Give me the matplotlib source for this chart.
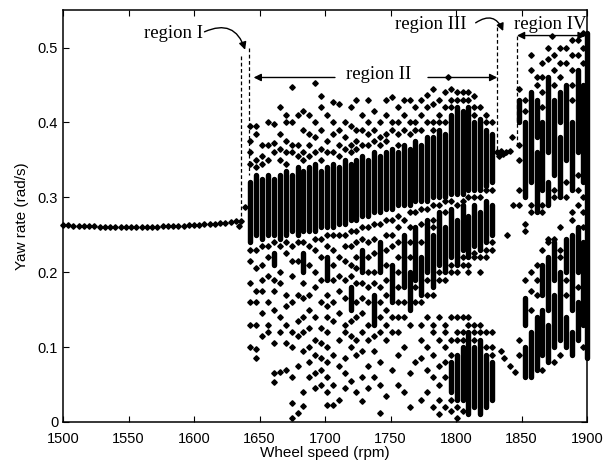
import numpy as np
import matplotlib.pyplot as plt

# region I : steady yaw rate
r1_speed = [1500, 1504, 1508, 1512, 1516, 1520, 1524, 1528, 1532, 1536,
            1540, 1544, 1548, 1552, 1556, 1560, 1564, 1568, 1572, 1576,
            1580, 1584, 1588, 1592, 1596, 1600, 1604, 1608, 1612, 1616,
            1620, 1624, 1628, 1632, 1636]
r1_yaw = [0.263, 0.263, 0.262, 0.262, 0.262, 0.262, 0.262, 0.261, 0.261, 0.261,
          0.261, 0.261, 0.261, 0.261, 0.261, 0.261, 0.261, 0.261, 0.261, 0.262,
          0.262, 0.262, 0.262, 0.262, 0.263, 0.263, 0.263, 0.264, 0.264, 0.265,
          0.266, 0.266, 0.267, 0.268, 0.269]

# odd points near region boundaries
extra_speed = [1634, 1639, 1794, 1873]
extra_yaw = [0.262, 0.287, 0.46, 0.516]

# region II : one column of samples per speed
r2_speed = [1643, 1647.5, 1652, 1656.5, 1661, 1665.5, 1670, 1674.5, 1679, 1683.5,
            1688, 1692.5, 1697, 1701.5, 1706, 1710.5, 1715, 1719.5, 1724, 1728.5,
            1733, 1737.5, 1742, 1746.5, 1751, 1755.5, 1760, 1764.5, 1769, 1773.5,
            1778, 1782.5, 1787, 1791.5, 1796, 1800.5, 1805, 1809.5, 1814, 1818.5,
            1823, 1827.5]
# dense runs (low, high) in each column
r2_runs = [
    [(0.24, 0.32)], [(0.25, 0.33)], [(0.245, 0.325)], [(0.25, 0.33)],
    [(0.25, 0.325), (0.21, 0.225)], [(0.245, 0.33)], [(0.25, 0.335)], [(0.255, 0.33)],
    [(0.25, 0.34)], [(0.255, 0.335), (0.2, 0.225)], [(0.255, 0.34)], [(0.255, 0.345)],
    [(0.26, 0.335)], [(0.26, 0.34), (0.19, 0.22)], [(0.26, 0.345)], [(0.265, 0.34)],
    [(0.265, 0.35)], [(0.27, 0.345), (0.15, 0.18)], [(0.27, 0.35)], [(0.275, 0.355), (0.2, 0.23)],
    [(0.275, 0.35)], [(0.28, 0.36), (0.13, 0.17)], [(0.28, 0.355), (0.2, 0.24)], [(0.285, 0.36)],
    [(0.285, 0.365), (0.16, 0.21)], [(0.29, 0.36)], [(0.29, 0.37), (0.18, 0.25)],
    [(0.29, 0.365), (0.15, 0.2)], [(0.295, 0.375), (0.19, 0.26)], [(0.295, 0.37), (0.17, 0.22)],
    [(0.295, 0.38), (0.2, 0.27)], [(0.3, 0.38), (0.18, 0.25)], [(0.3, 0.39), (0.21, 0.28)],
    [(0.3, 0.385), (0.2, 0.26)], [(0.305, 0.41), (0.22, 0.285), (0.04, 0.08)],
    [(0.305, 0.42), (0.21, 0.27), (0.03, 0.09)], [(0.305, 0.415), (0.23, 0.29), (0.03, 0.1)],
    [(0.31, 0.42), (0.22, 0.275), (0.01, 0.12)], [(0.31, 0.4), (0.235, 0.29), (0.02, 0.1)],
    [(0.31, 0.405), (0.23, 0.28), (0.01, 0.11)], [(0.315, 0.39), (0.24, 0.295), (0.02, 0.09)],
    [(0.32, 0.385), (0.25, 0.29), (0.03, 0.08)],
]
# scattered samples in each column
r2_dots = [
    [0.395, 0.375, 0.36, 0.345, 0.23, 0.215, 0.185, 0.16, 0.13, 0.10],
    [0.395, 0.385, 0.35, 0.34, 0.23, 0.205, 0.175, 0.16, 0.13, 0.098, 0.085],
    [0.37, 0.355, 0.345, 0.235, 0.21, 0.19, 0.175, 0.145, 0.115],
    [0.40, 0.37, 0.35, 0.235, 0.22, 0.195, 0.16, 0.13, 0.12],
    [0.398, 0.372, 0.36, 0.24, 0.19, 0.175, 0.15, 0.105, 0.065, 0.053],
    [0.42, 0.385, 0.365, 0.35, 0.235, 0.20, 0.185, 0.14, 0.12, 0.067],
    [0.41, 0.40, 0.375, 0.36, 0.345, 0.24, 0.225, 0.17, 0.155, 0.13, 0.105, 0.07],
    [0.447, 0.40, 0.37, 0.36, 0.235, 0.215, 0.195, 0.16, 0.12, 0.10, 0.06, 0.025, 0.005],
    [0.41, 0.37, 0.355, 0.24, 0.215, 0.17, 0.135, 0.115, 0.075, 0.012],
    [0.415, 0.39, 0.36, 0.35, 0.24, 0.185, 0.165, 0.14, 0.12, 0.095, 0.04, 0.022],
    [0.41, 0.385, 0.37, 0.355, 0.235, 0.21, 0.17, 0.15, 0.125, 0.10, 0.08, 0.06],
    [0.452, 0.40, 0.38, 0.36, 0.245, 0.23, 0.20, 0.18, 0.14, 0.11, 0.09, 0.065, 0.045],
    [0.435, 0.42, 0.39, 0.365, 0.35, 0.245, 0.22, 0.19, 0.16, 0.125, 0.105, 0.085, 0.07, 0.05],
    [0.41, 0.375, 0.36, 0.25, 0.235, 0.17, 0.155, 0.14, 0.12, 0.10, 0.08, 0.06, 0.04, 0.023],
    [0.427, 0.40, 0.385, 0.36, 0.25, 0.23, 0.21, 0.19, 0.16, 0.135, 0.09, 0.05, 0.023],
    [0.425, 0.39, 0.37, 0.355, 0.25, 0.22, 0.195, 0.175, 0.145, 0.11, 0.075, 0.03],
    [0.40, 0.38, 0.365, 0.25, 0.235, 0.215, 0.19, 0.165, 0.13, 0.12, 0.085, 0.065, 0.045],
    [0.42, 0.395, 0.37, 0.36, 0.255, 0.235, 0.21, 0.195, 0.135, 0.115, 0.10, 0.055],
    [0.43, 0.39, 0.375, 0.365, 0.255, 0.24, 0.22, 0.205, 0.185, 0.16, 0.14, 0.11, 0.09, 0.04],
    [0.41, 0.39, 0.37, 0.26, 0.245, 0.185, 0.165, 0.145, 0.12, 0.095, 0.06, 0.028],
    [0.43, 0.40, 0.385, 0.37, 0.26, 0.24, 0.22, 0.20, 0.18, 0.16, 0.13, 0.11, 0.075, 0.045],
    [0.415, 0.39, 0.375, 0.265, 0.245, 0.225, 0.20, 0.185, 0.115, 0.095, 0.06],
    [0.40, 0.38, 0.37, 0.265, 0.18, 0.16, 0.14, 0.12, 0.08, 0.05, 0.012],
    [0.43, 0.41, 0.385, 0.375, 0.27, 0.25, 0.23, 0.21, 0.19, 0.17, 0.15, 0.13, 0.11, 0.035],
    [0.434, 0.40, 0.39, 0.27, 0.25, 0.235, 0.14, 0.12, 0.07],
    [0.42, 0.40, 0.385, 0.37, 0.275, 0.26, 0.24, 0.22, 0.20, 0.18, 0.16, 0.14, 0.12, 0.09, 0.05],
    [0.43, 0.41, 0.39, 0.27, 0.16, 0.14, 0.10, 0.04],
    [0.43, 0.40, 0.385, 0.28, 0.26, 0.24, 0.22, 0.13, 0.065, 0.02],
    [0.42, 0.40, 0.39, 0.28, 0.18, 0.16, 0.08],
    [0.43, 0.41, 0.39, 0.285, 0.265, 0.24, 0.16, 0.13, 0.11, 0.085, 0.03],
    [0.436, 0.42, 0.40, 0.285, 0.19, 0.17, 0.14, 0.10, 0.07, 0.04],
    [0.445, 0.425, 0.40, 0.39, 0.29, 0.27, 0.26, 0.17, 0.13, 0.12, 0.09, 0.06, 0.02],
    [0.43, 0.41, 0.40, 0.29, 0.20, 0.19, 0.14, 0.11, 0.075, 0.05, 0.03, 0.01],
    [0.44, 0.42, 0.40, 0.295, 0.28, 0.19, 0.13, 0.12, 0.10, 0.08, 0.06, 0.02],
    [0.445, 0.43, 0.42, 0.295, 0.21, 0.20, 0.14, 0.11, 0.09, 0.03, 0.015],
    [0.44, 0.43, 0.29, 0.20, 0.14, 0.12, 0.11, 0.02, 0.005],
    [0.44, 0.43, 0.295, 0.22, 0.21, 0.14, 0.12, 0.11, 0.015],
    [0.44, 0.43, 0.30, 0.21, 0.2, 0.14, 0.13],
    [0.435, 0.42, 0.41, 0.30, 0.225, 0.22, 0.13, 0.12, 0.11],
    [0.42, 0.30, 0.22, 0.2, 0.13, 0.12],
    [0.41, 0.40, 0.31, 0.23, 0.22, 0.12, 0.10],
    [0.40, 0.31, 0.24, 0.23, 0.12, 0.10, 0.09],
]

# region III : few points in the gap
r3_speed = [1831, 1833, 1834.5, 1836, 1838, 1841, 1843, 1843.5, 1839, 1845, 1841, 1837, 1834]
r3_yaw = [0.36, 0.355, 0.362, 0.358, 0.36, 0.362, 0.38, 0.29, 0.25, 0.067, 0.075, 0.085, 0.095]

# region IV
r4_speed = [1848, 1852.5, 1857, 1861.5, 1866, 1870.5, 1875, 1879.5, 1884, 1888.5, 1893, 1897, 1900]
r4_runs = [
    [(0.40, 0.43)],
    [(0.30, 0.40), (0.13, 0.165), (0.06, 0.10)],
    [(0.32, 0.44), (0.06, 0.12)],
    [(0.28, 0.36), (0.38, 0.43), (0.07, 0.14)],
    [(0.31, 0.40), (0.09, 0.15), (0.17, 0.21)],
    [(0.36, 0.46), (0.29, 0.32), (0.08, 0.13), (0.15, 0.22)],
    [(0.33, 0.43), (0.10, 0.17), (0.19, 0.24)],
    [(0.30, 0.38), (0.40, 0.44), (0.11, 0.20)],
    [(0.35, 0.45), (0.20, 0.245), (0.10, 0.14)],
    [(0.31, 0.40), (0.15, 0.25), (0.09, 0.12)],
    [(0.36, 0.47), (0.20, 0.26), (0.11, 0.16)],
    [(0.32, 0.45), (0.13, 0.24)],
    [(0.085, 0.52)],
]
r4_dots = [
    [0.445, 0.37, 0.35, 0.31, 0.29, 0.11, 0.09],
    [0.43, 0.415, 0.265, 0.255, 0.19],
    [0.49, 0.47, 0.29, 0.28, 0.20, 0.175, 0.15],
    [0.46, 0.45, 0.21, 0.19, 0.17],
    [0.48, 0.46, 0.44, 0.42, 0.29, 0.28, 0.23, 0.07],
    [0.50, 0.485, 0.245, 0.24],
    [0.49, 0.47, 0.45, 0.31, 0.30, 0.245, 0.08],
    [0.50, 0.48, 0.46, 0.26, 0.23, 0.22, 0.09],
    [0.50, 0.48, 0.32, 0.30, 0.19, 0.17],
    [0.51, 0.49, 0.47, 0.45, 0.43, 0.28, 0.27],
    [0.51, 0.49, 0.33, 0.31, 0.29, 0.18],
    [0.52, 0.50, 0.48, 0.30, 0.28, 0.26, 0.10],
    [],
]

plt.rcParams['font.family'] = ['Liberation Sans', 'DejaVu Sans']
fig = plt.figure(figsize=(6.03, 4.67), dpi=100)
ax = fig.add_axes([0.1045, 0.0964, 0.869, 0.882])

mk = dict(ls='none', marker='D', ms=2.8, color='k', mec='k', clip_on=False, zorder=3)

# flatten columns
dx, dy, sx, slo, shi = [], [], [], [], []
for cols, runs, dots in [(r2_speed, r2_runs, r2_dots), (r4_speed, r4_runs, r4_dots)]:
    for x, rr, dd in zip(cols, runs, dots):
        for lo, hi in rr:
            sx.append(x); slo.append(lo); shi.append(hi)
        for y in dd:
            dx.append(x); dy.append(y)

ax.vlines(sx, slo, shi, colors='k', lw=3.9, capstyle='round', zorder=3, clip_on=False)
ax.plot(dx, dy, **mk)
ax.plot(r1_speed, r1_yaw, **mk)
ax.plot(r3_speed, r3_yaw, **mk)
ax.plot(extra_speed, extra_yaw, **mk)

# dashed region borders
dash = dict(color='k', lw=0.9, ls=(0, (3, 2)), zorder=4)
ax.plot([1635.5, 1635.5], [0.489, 0.272], **dash)
ax.plot([1641.6, 1641.6], [0.50, 0.33], **dash)
ax.plot([1831, 1831], [0.527, 0.362], **dash)
ax.plot([1846.3, 1846.3], [0.516, 0.366], **dash)

arr = dict(arrowstyle='-|>', color='k', lw=1.0, mutation_scale=11, shrinkA=0, shrinkB=0)
tf = dict(family=['Liberation Serif', 'DejaVu Serif'], fontsize=13.5, va='center', ha='center')

ax.text(1584.7, 0.519, 'region I', **tf)
ax.annotate('', xy=(1639, 0.497), xytext=(1608, 0.521),
            arrowprops=dict(arr, connectionstyle='arc3,rad=-0.55'))

ax.text(1741, 0.464, 'region II', **tf)
ax.annotate('', xy=(1645.5, 0.46), xytext=(1707.6, 0.46), arrowprops=arr)
ax.annotate('', xy=(1831.5, 0.46), xytext=(1778.6, 0.46), arrowprops=arr)

ax.text(1781, 0.531, 'region III', **tf)
ax.annotate('', xy=(1836, 0.522), xytext=(1815, 0.533),
            arrowprops=dict(arr, connectionstyle='arc3,rad=-0.6'))

ax.text(1871.8, 0.531, 'region IV', **tf)
ax.annotate('', xy=(1846.5, 0.516), xytext=(1899, 0.516),
            arrowprops=dict(arr, arrowstyle='<|-|>'))

ax.set_xlim(1500, 1900)
ax.set_ylim(0, 0.55)
ax.set_xticks(np.arange(1500, 1901, 50))
ax.set_yticks([0, 0.1, 0.2, 0.3, 0.4, 0.5])
ax.set_yticklabels(['0', '0.1', '0.2', '0.3', '0.4', '0.5'])
ax.tick_params(direction='in', top=True, right=True, length=4, width=0.8, labelsize=10.5)
ax.tick_params(axis='x', pad=7)
for s in ax.spines.values():
    s.set_linewidth(1.1)
ax.set_xlabel('Wheel speed (rpm)', fontsize=11, labelpad=0)
ax.set_ylabel('Yaw rate (rad/s)', fontsize=11, labelpad=6)

fig.savefig('out.png', dpi=100)
